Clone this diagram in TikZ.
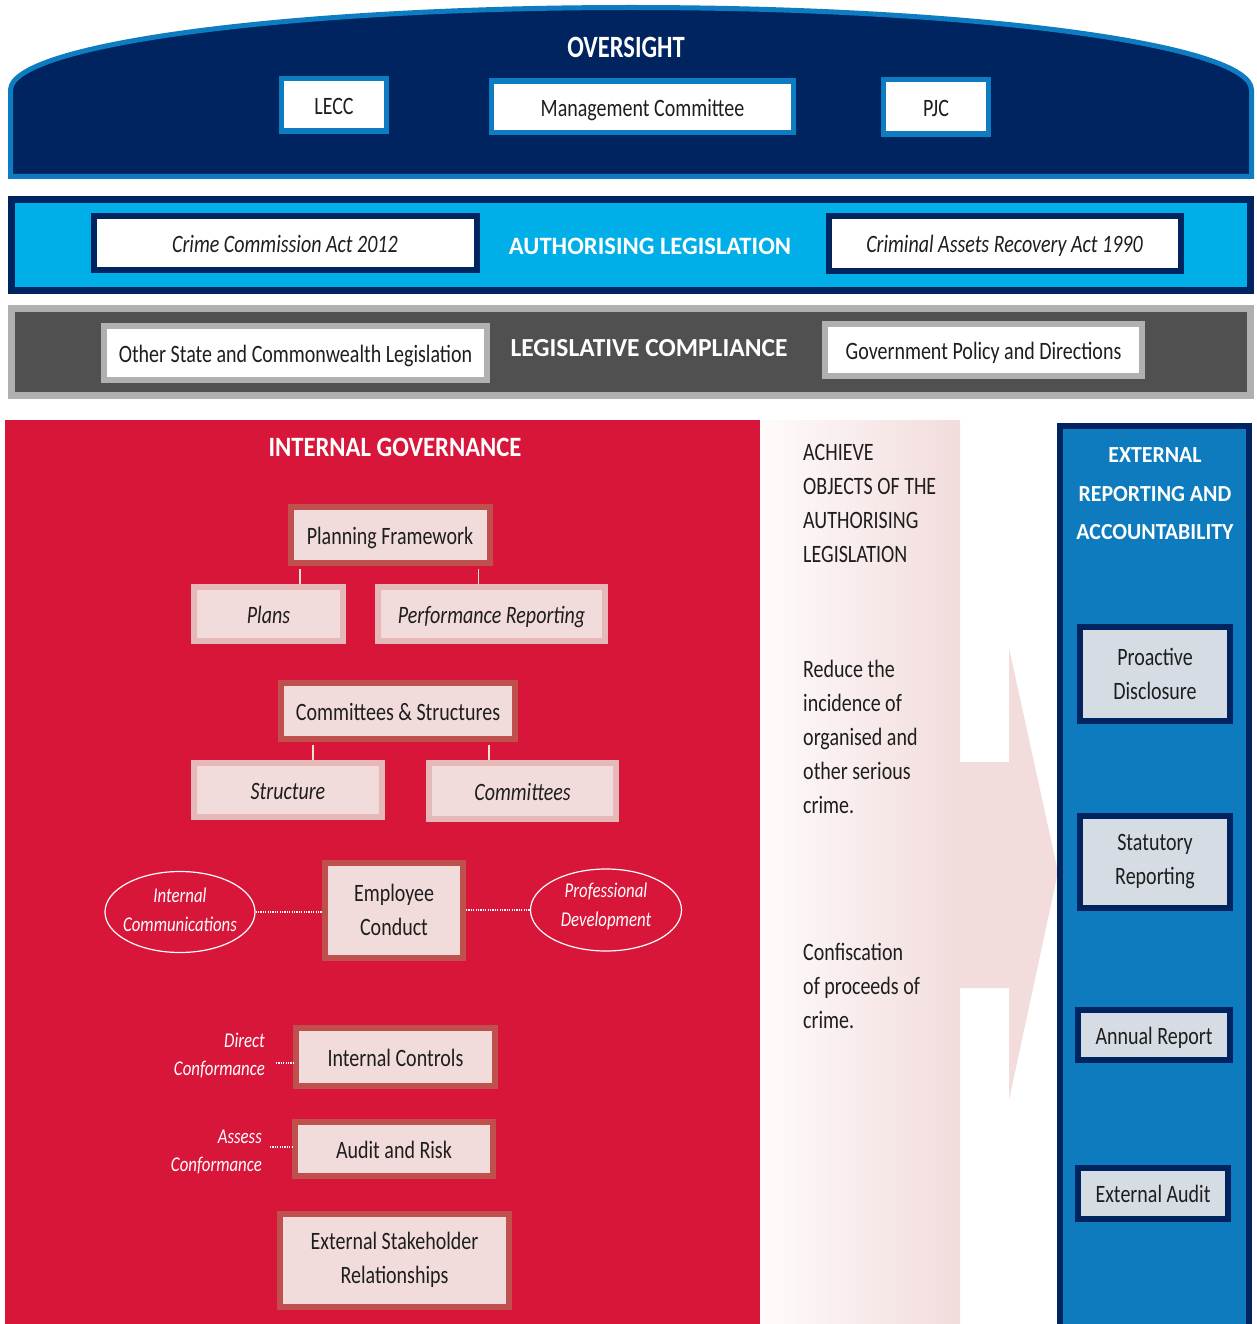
\documentclass[tikz,border=0pt]{standalone}
\usepackage{fontspec}
\usepackage{graphicx}
\setmainfont{Carlito}[FakeStretch=0.8]
\newfontfamily\hdfont{Carlito}
\usetikzlibrary{shapes.geometric}
\definecolor{navy}{RGB}{0,36,96}
\definecolor{oblue}{RGB}{14,124,192}
\definecolor{rblue}{RGB}{13,123,189}
\definecolor{cyanbar}{RGB}{0,174,232}
\definecolor{dgray}{RGB}{80,80,80}
\definecolor{lgray}{RGB}{176,176,176}
\definecolor{redp}{RGB}{216,22,58}
\definecolor{boxred}{RGB}{192,80,77}
\definecolor{boxpink}{RGB}{230,184,183}
\definecolor{boxfill}{RGB}{242,220,219}
\definecolor{rbfill}{RGB}{214,220,228}
\definecolor{gradL}{RGB}{255,251,251}
\definecolor{gradR}{RGB}{242,220,220}
\definecolor{txt}{RGB}{30,30,30}
\begin{document}
\begin{tikzpicture}[x=1pt,y=-1pt,
  body/.style={font=\fontsize{25}{34}\selectfont, text=txt, align=center, inner sep=0pt},
  one/.style={text height=19pt, text depth=0pt},
  wbox/.style={body, one, draw=oblue, line width=5.5pt, fill=white},
  nbox/.style={body, one, draw=navy, line width=6pt, fill=white, font=\fontsize{25}{34}\selectfont\itshape},
  gbox/.style={body, one, draw=lgray, line width=6pt, fill=white},
  mainbox/.style={body, draw=boxred, line width=6pt, fill=boxfill},
  subbox/.style={body, one, draw=boxpink, line width=6pt, fill=boxfill, font=\fontsize{25}{34}\selectfont\itshape},
  rbox/.style={body, draw=navy, line width=6pt, fill=rbfill},
  oval/.style={ellipse, draw=white, line width=1.2pt, inner xsep=-5pt, inner ysep=0pt, text=white, align=center,
    font=\fontsize{21}{29}\selectfont\itshape},
  wlabel/.style={text=white, align=right, inner sep=0pt, font=\fontsize{21}{28}\selectfont\itshape},
  midtext/.style={text=txt, align=left, inner sep=0pt, font=\fontsize{25}{34}\selectfont},
  conn/.style={draw=boxfill, line width=1.5pt},
  dots/.style={draw=white, line width=1.6pt, dash pattern=on 1.2pt off 1.2pt},
  hd/.style={text=white, inner sep=0pt, align=center}
]
\useasboundingbox (0,0) rectangle (1256,1324);
\fill[white] (0,0) rectangle (1256,1324);

% ---------- OVERSIGHT ----------
\filldraw[fill=navy, draw=oblue, line width=5pt]
  (10.5,176.5) -- (10.5,90) arc[start angle=180, end angle=0, x radius=620.5pt, y radius=82.5pt]
  -- (1251.5,176.5) -- cycle;
\node[hd, font=\hdfont\bfseries\fontsize{31}{31}\selectfont] (ovt) at (626,47) {\scalebox{0.79}[1]{OVERSIGHT}};
\node[wbox, minimum width=105pt, minimum height=52.5pt] (lecc) at (334,105) {LECC};
\node[wbox, minimum width=302pt, minimum height=51.5pt] (mgmt) at (642.5,107) {Management Committee};
\node[wbox, minimum width=105pt, minimum height=54.5pt] (pjc) at (936,107) {PJC};

% ---------- AUTHORISING LEGISLATION ----------
\filldraw[fill=cyanbar, draw=navy, line width=7pt] (11.5,199.5) rectangle (1250.5,290.5);
\node[hd, font=\hdfont\bfseries\fontsize{25}{25}\selectfont] (alt) at (650,246) {\scalebox{0.985}[1]{AUTHORISING LEGISLATION}};
\node[nbox, minimum width=383pt, minimum height=54.5pt] (cca) at (285,243) {Crime Commission Act 2012};
\node[nbox, minimum width=352pt, minimum height=54pt] (cara) at (1004.5,243.5) {Criminal Assets Recovery Act 1990};

% ---------- LEGISLATIVE COMPLIANCE ----------
\filldraw[fill=dgray, draw=lgray, line width=7pt] (11.5,308.5) rectangle (1250.5,395.5);
\node[hd, font=\hdfont\bfseries\fontsize{26}{26}\selectfont] (lct) at (649,348) {\scalebox{0.98}[1]{LEGISLATIVE COMPLIANCE}};
\node[gbox, minimum width=383pt, minimum height=54.5pt] (osc) at (295.5,353) {Other State and Commonwealth Legislation};
\node[gbox, minimum width=317pt, minimum height=52pt] (gpd) at (983.5,350) {Government Policy and Directions};

% ---------- INTERNAL GOVERNANCE ----------
\fill[redp] (5,420) rectangle (760,1324);
\node[hd, font=\hdfont\bfseries\fontsize{28}{28}\selectfont] (igt) at (395,447) {\scalebox{0.88}[1]{INTERNAL GOVERNANCE}};

\node[mainbox, one, minimum width=199pt, minimum height=56.5pt] (pf) at (390,535) {Planning Framework};
\node[subbox, minimum width=149pt, minimum height=54.5pt] (plans) at (268.5,614) {Plans};
\node[subbox, minimum width=227pt, minimum height=54.5pt] (perf) at (491.5,614) {Performance Reporting};
\node[mainbox, one, minimum width=233.5pt, minimum height=56pt] (cs) at (398,710.5) {Committees \& Structures};
\node[subbox, minimum width=188pt, minimum height=54pt] (struct) at (288,789.5) {Structure};
\node[subbox, minimum width=187pt, minimum height=56pt] (comm) at (522.5,790.5) {Committees};

\node[mainbox, minimum width=138pt, minimum height=95pt] (ec) at (394,910) {Employee\\Conduct};
\node[oval, text depth=4pt, minimum width=150pt, minimum height=81pt] (icom) at (180,912) {Internal\\Communications};
\node[oval, text depth=11pt, minimum width=151pt, minimum height=82pt] (pdev) at (606,910) {Professional\\Development};

\node[mainbox, one, minimum width=199pt, minimum height=58pt] (ic) at (395.5,1056.5) {Internal Controls};
\node[wlabel, anchor=east] (dc) at (265,1055) {Direct\\Conformance};
\node[mainbox, one, minimum width=198pt, minimum height=54pt] (ar) at (394,1148.5) {Audit and Risk};
\node[wlabel, anchor=east] (ac) at (262,1152) {Assess\\Conformance};
\node[mainbox, minimum width=229pt, minimum height=93pt] (esr) at (394.5,1260) {External Stakeholder\\Relationships};

% connectors
\draw[conn] ([xshift=-90pt,yshift=-3pt]pf.south) -- ([xshift=-90pt]pf.south |- plans.north);
\draw[conn] ([xshift=88.6pt,yshift=-3pt]pf.south) -- ([xshift=88.6pt]pf.south |- perf.north);
\draw[conn] ([xshift=-85pt,yshift=-3pt]cs.south) -- ([xshift=-85pt]cs.south |- struct.north);
\draw[conn] ([xshift=91pt,yshift=-3pt]cs.south) -- ([xshift=91pt]cs.south |- comm.north);
\draw[dots] (icom.east) -- (icom.east -| ec.west);
\draw[dots] (ec.east) -- (ec.east -| pdev.west);
\draw[dots] ([xshift=11pt,yshift=-8pt]dc.east) -- ([yshift=-8pt]dc.east -| ic.west);
\draw[dots] ([xshift=8pt,yshift=5pt]ac.east) -- ([yshift=5pt]ac.east -| ar.west);

% ---------- MIDDLE ARROW ----------
\shade[left color=gradL, right color=gradR] (760,420) rectangle (960,1324);
\fill[gradR] (960,762) -- (1009,762) -- (1009,648) -- (1058,872) -- (1009,1100) -- (1009,988) -- (960,988) -- cycle;
\node[midtext, anchor=west] (obj) at (803,503.5) {ACHIEVE\\OBJECTS OF THE\\AUTHORISING\\LEGISLATION};
\node[midtext, anchor=west] (red) at (803,736.5) {Reduce the\\incidence of\\organised and\\other serious\\crime.};
\node[midtext, anchor=west] (conf) at (803,986) {Confiscation\\of proceeds of\\crime.};

% ---------- EXTERNAL REPORTING ----------
\fill[rblue] (1060,426) rectangle (1249,1324);
\draw[navy, line width=6pt] (1060,1330) -- (1060,426) -- (1249,426) -- (1249,1330);
\node[hd, font=\hdfont\bfseries\fontsize{23}{38.5}\selectfont] (ert) at (1155,494)
  {\scalebox{0.95}[1]{EXTERNAL}\\\scalebox{0.95}[1]{REPORTING AND}\\\scalebox{0.95}[1]{ACCOUNTABILITY}};
\node[rbox, minimum width=150.5pt, minimum height=93.5pt] (pd) at (1155,674) {Proactive\\Disclosure};
\node[rbox, minimum width=150.5pt, minimum height=92.5pt] (sr) at (1155,862) {Statutory\\Reporting};
\node[rbox, one, minimum width=152pt, minimum height=50.5pt] (anr) at (1154,1035) {Annual Report};
\node[rbox, one, minimum width=150.5pt, minimum height=51pt] (ea) at (1153,1193) {External Audit};
\end{tikzpicture}
\end{document}
